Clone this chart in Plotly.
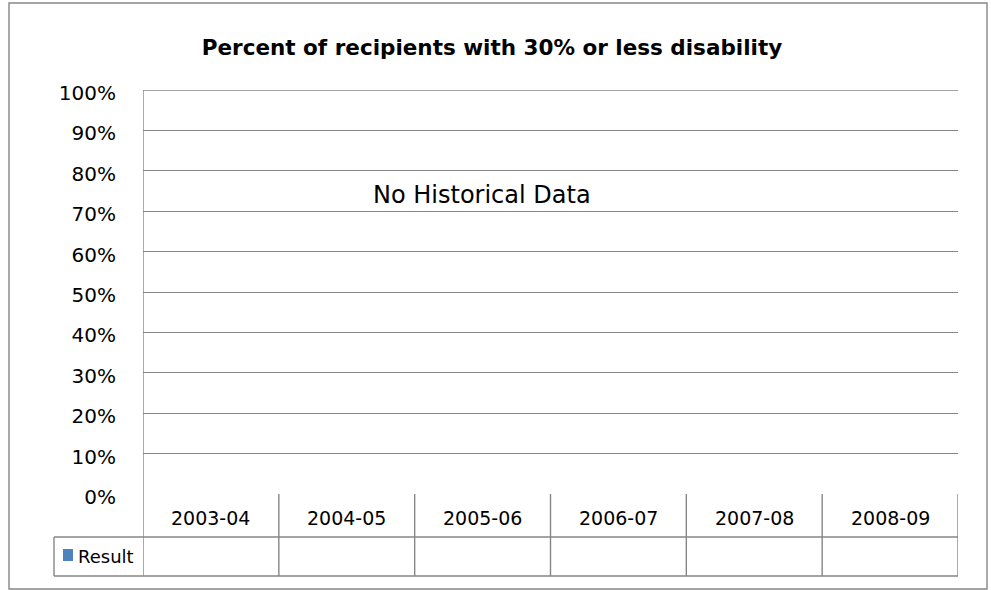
import plotly.graph_objects as go

categories = ["2003-04", "2004-05", "2005-06", "2006-07", "2007-08", "2008-09"]
result_values = [None, None, None, None, None, None]
series_name = "Result"
title_text = "Percent of recipients with 30% or less disability"
note_text = "No Historical Data"
y_tick_values = [0, 0.1, 0.2, 0.3, 0.4, 0.5, 0.6, 0.7, 0.8, 0.9, 1.0]

W, H = 991, 590
L, R, T, B = 143, 958, 90, 494
PW, PH = R - L, B - T
FONT = "DejaVu Sans, sans-serif"
GRID = "#868686"
BLUE = "#4F81BD"
LW = 1.4


def px(x):
    return (x - L) / PW


def py(y):
    return (B - y) / PH


fig = go.Figure()
fig.add_trace(go.Bar(x=list(range(len(categories))), y=result_values, name=series_name,
                     marker_color=BLUE, showlegend=False))

n = len(categories)
shapes = []
# outer chart border
shapes.append(dict(type="rect", xref="paper", yref="paper",
                   x0=px(9), x1=px(987), y0=py(589), y1=py(3),
                   line=dict(color=GRID, width=LW), layer="below"))
# top gridline (100%)
shapes.append(dict(type="line", xref="paper", yref="y",
                   x0=0, x1=1, y0=y_tick_values[-1], y1=y_tick_values[-1],
                   line=dict(color=GRID, width=LW)))
# data table horizontal lines
for yy in (537, 576):
    shapes.append(dict(type="line", xref="paper", yref="paper",
                       x0=px(54), x1=px(R), y0=py(yy), y1=py(yy),
                       line=dict(color=GRID, width=LW)))
# left edge of Result row
shapes.append(dict(type="line", xref="paper", yref="paper",
                   x0=px(54), x1=px(54), y0=py(537), y1=py(576),
                   line=dict(color=GRID, width=LW)))
# vertical column boundaries (data coordinates)
for i in range(n + 1):
    xb = i - 0.5
    y_top = py(T) if i == 0 else 0
    shapes.append(dict(type="line", xref="x", yref="paper",
                       x0=xb, x1=xb, y0=y_top, y1=py(576),
                       line=dict(color=GRID, width=LW)))

annotations = []
for i, c in enumerate(categories):
    annotations.append(dict(x=i, xref="x", y=py(518), yref="paper",
                            text=c, showarrow=False, xanchor="center", yanchor="middle",
                            font=dict(family=FONT, size=19, color="#000")))
annotations.append(dict(x=px(136), xref="paper", y=py(556), yref="paper",
                        text=series_name, showarrow=False, xanchor="right", yanchor="middle",
                        font=dict(family=FONT, size=18, color="#000")))
shapes.append(dict(type="rect", xref="paper", yref="paper",
                   x0=px(63), x1=px(73), y0=py(561), y1=py(549),
                   fillcolor=BLUE, line=dict(width=0)))
annotations.append(dict(x=px(482), xref="paper", y=py(195), yref="paper",
                        text=note_text, showarrow=False, xanchor="center", yanchor="middle",
                        font=dict(family=FONT, size=24, color="#000")))

fig.update_layout(
    width=W, height=H, autosize=False,
    margin=dict(l=L, r=W - R, t=T, b=H - B, pad=0),
    paper_bgcolor="white", plot_bgcolor="white",
    title=dict(text="<b>" + title_text + "</b>", x=492 / W, xanchor="center",
               y=1 - 47 / H, yanchor="middle", xref="container", yref="container",
               font=dict(family=FONT, size=21.5, color="#000")),
    xaxis=dict(range=[-0.5, n - 0.5], showticklabels=False, showgrid=False,
               zeroline=False, showline=False, ticks="", fixedrange=True),
    yaxis=dict(range=[0, 1], tickvals=y_tick_values, tickformat=".0%",
               showgrid=True, gridcolor=GRID, gridwidth=LW, zeroline=False,
               showline=False, ticks="", ticklabelstandoff=26, ticklabelshift=3,
               tickfont=dict(family=FONT, size=20, color="#000")),
    shapes=shapes, annotations=annotations, showlegend=False,
)

fig.write_html("out.html", config={"displayModeBar": False},
               post_script="document.body.style.margin='0';")
